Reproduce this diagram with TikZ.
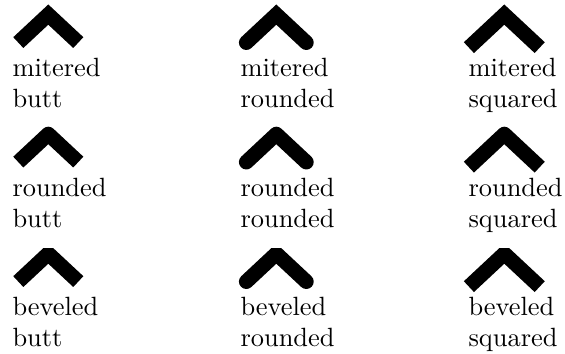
\documentclass[tikz,border=0pt]{standalone}
\begin{document}
\begin{tikzpicture}[x=0.3788pt, y=-0.3788pt]
\tikzset{
  chev/.style={line width=5.6pt},
  lbl/.style={anchor=base west, inner sep=0pt, font=\fontsize{10}{12}\selectfont}
}
\useasboundingbox (0,0) rectangle (565,354);
\foreach \j/\jn [count=\r from 0] in {miter/mitered, round/rounded, bevel/beveled} {
  \foreach \c/\cn [count=\k from 0] in {butt/butt, round/rounded, rect/squared} {
    \pgfmathsetmacro\dx{228*\k}
    \pgfmathsetmacro\dy{119.5*\r}
    \coordinate (l\r\k) at (18.3+\dx,42.6+\dy);
    \coordinate (m\r\k) at (48.3+\dx,14.6+\dy);
    \coordinate (e\r\k) at (78.3+\dx,42.6+\dy);
    \draw[chev, line join=\j, line cap=\c] (l\r\k) -- (m\r\k) -- (e\r\k);
    \node[lbl] (a\r\k) at (12+\dx,77+\dy) {\jn};
    \node[lbl] (b\r\k) at (12+\dx,108+\dy) {\cn};
  }
}
\end{tikzpicture}
\end{document}
